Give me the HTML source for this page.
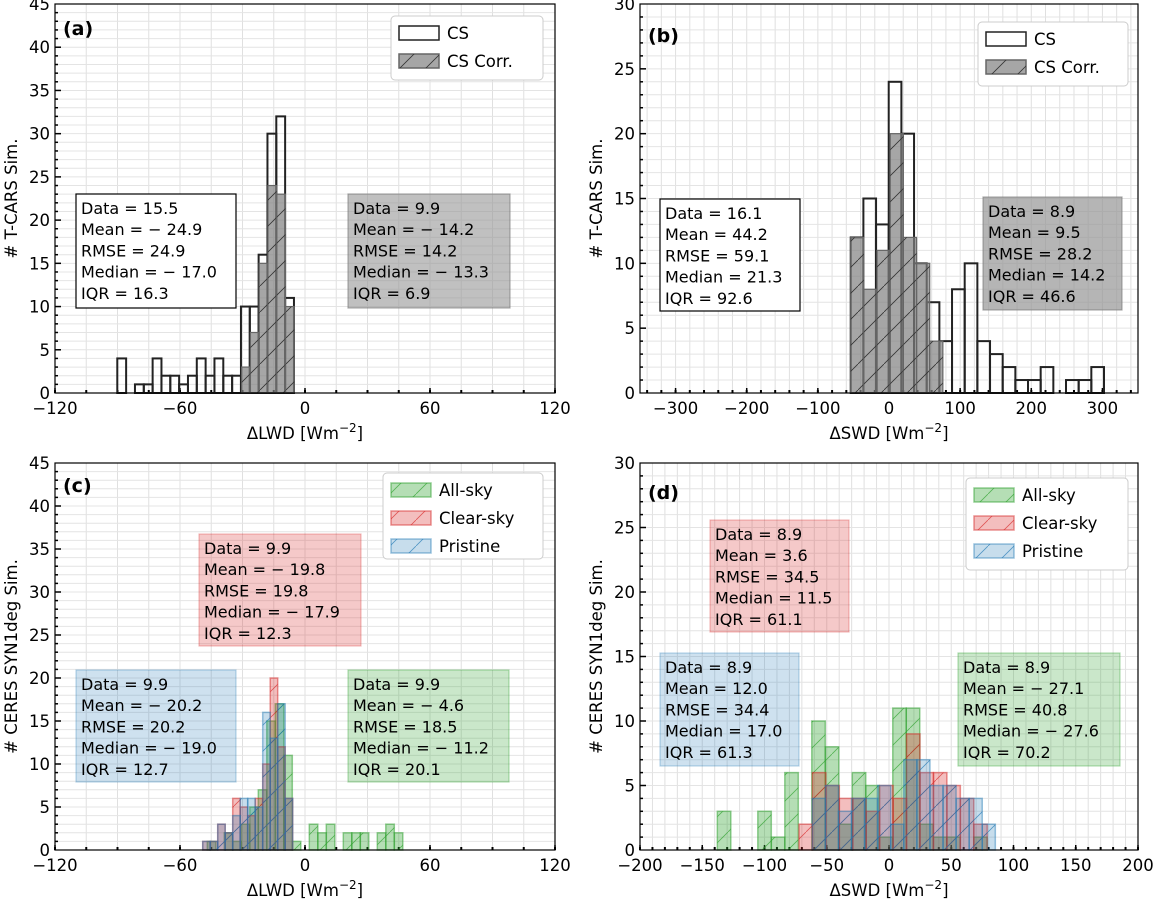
<!DOCTYPE html>
<html><head><meta charset="utf-8"><style>
body{margin:0;background:#fff;}
svg text{font-family:"DejaVu Sans","Liberation Sans",sans-serif;fill:#000;}
</style></head><body>
<svg id="fig" xmlns="http://www.w3.org/2000/svg" width="1155" height="901" viewBox="0 0 1155 901">
<defs>
<pattern id="hk" patternUnits="userSpaceOnUse" width="26" height="26"><path d="M0,26 L26,0" stroke="#333" stroke-width="0.8"/></pattern>
<pattern id="hg" patternUnits="userSpaceOnUse" width="26" height="26"><path d="M0,26 L26,0" stroke="#2ca02c" stroke-width="0.8" opacity="0.7"/></pattern>
<pattern id="hr" patternUnits="userSpaceOnUse" width="26" height="26"><path d="M0,26 L26,0" stroke="#d62728" stroke-width="0.8" opacity="0.7"/></pattern>
<pattern id="hb" patternUnits="userSpaceOnUse" width="26" height="26"><path d="M0,26 L26,0" stroke="#1f77b4" stroke-width="0.8" opacity="0.7"/></pattern>
</defs>
</svg>
<script>
// ---- data ----
const aCsCounts=[4,0,1,1,4,2,2,1,2,4,2,4,2,2,10,10,16,30,32,11];
const aCsStart=-90.1, aCsWidth=4.24;
const aCorrCounts=[3,7,15,24,23,10];
const aCorrStart=-30.4, aCorrWidth=4.2;
const bCsCounts=[12,15,13,24,20,10,7,4,8,10,4,3,2,1,1,2,0,1,1,2];
const bCsStart=-53.8, bCsWidth=17.8;
const bCorrCounts=[12,8,11,20,12,10,4];
const bCorrStart=-53.8, bCorrWidth=18.5;
const cAllCounts=[1,0,2,1,3,5,7,15,17,11,1,0,3,2,3,0,2,2,2,0,2,3,2];
const cAllStart=-46.9, cAllWidth=4.08;
const cClearCounts=[1,1,3,2,6,5,4,6,10,20,12,6];
const cClearStart=-49.1, cClearWidth=3.6;
const cPristineCounts=[1,1,3,2,4,6,6,5,16,13,17,6];
const cPristineStart=-49.1, cPristineWidth=3.6;
const dAllCounts=[3,0,0,3,1,6,0,10,8,2,6,5,1,11,11,2,1,1,0,1];
const dAllStart=-137.9, dAllWidth=10.84;
const dClearCounts=[2,6,5,4,4,3,5,4,9,6,6,5,4,2];
const dClearStart=-72.3, dClearWidth=10.8;
const dPristineCounts=[4,5,3,4,4,5,2,7,7,5,5,4,4,2];
const dPristineStart=-61.6, dPristineWidth=10.5;
const aXTicks=[-120,-60,0,60,120], bXTicks=[-300,-200,-100,0,100,200,300], dXTicks=[-200,-150,-100,-50,0,50,100,150,200];

const NS="http://www.w3.org/2000/svg";
const svg=document.getElementById('fig');
function el(t,a,p){const e=document.createElementNS(NS,t);for(const k in a)e.setAttribute(k,a[k]);(p||svg).appendChild(e);return e;}
function txt(s,a,p){const e=el('text',a,p);e.textContent=s;return e;}

const panels={
 a:{x0:55,x1:555,yb:393,yt:4,xmin:-120,xmax:120,ymax:45,ticks:aXTicks,minor:15,lab:'(a)',labY:35,ylab:'# T-CARS Sim.',xlab:'ΔLWD'},
 b:{x0:640,x1:1138,yb:393,yt:4,xmin:-350,xmax:350,ymax:30,ticks:bXTicks,minor:20,lab:'(b)',labY:42,ylab:'# T-CARS Sim.',xlab:'ΔSWD'},
 c:{x0:55,x1:555,yb:850,yt:463,xmin:-120,xmax:120,ymax:45,ticks:aXTicks,minor:15,lab:'(c)',labY:492,ylab:'# CERES SYN1deg Sim.',xlab:'ΔLWD'},
 d:{x0:640,x1:1138,yb:850,yt:463,xmin:-200,xmax:200,ymax:30,ticks:dXTicks,minor:10,lab:'(d)',labY:499,ylab:'# CERES SYN1deg Sim.',xlab:'ΔSWD'}
};
function X(p,v){return p.x0+(v-p.xmin)/(p.xmax-p.xmin)*(p.x1-p.x0);}
function Y(p,v){return p.yb-v/p.ymax*(p.yb-p.yt);}

function drawAxes(k){
 const p=panels[k];
 const g=el('g',{});
 
 
 for(let v=Math.ceil(p.xmin/p.minor)*p.minor;v<=p.xmax;v+=p.minor){
  el('line',{x1:X(p,v),x2:X(p,v),y1:p.yt,y2:p.yb,stroke:'#e0e0e0','stroke-width':1},g);
 }
 for(let v=1;v<p.ymax;v++){
  el('line',{x1:p.x0,x2:p.x1,y1:Y(p,v),y2:Y(p,v),stroke:'#e4e4e4','stroke-width':1},g);
  el('line',{x1:p.x0,x2:p.x0+(v%5?3:6),y1:Y(p,v),y2:Y(p,v),stroke:'#000','stroke-width':1.5},g);
 }
 for(let v=0;v<=p.ymax;v+=5){
  const t=txt(String(v),{x:p.x0-5,y:Y(p,v)+6,'text-anchor':'end','font-size':16.5},g);
  
  
 }
 for(let v=Math.ceil(p.xmin/p.minor)*p.minor;v<=p.xmax;v+=p.minor){
  el('line',{x1:X(p,v),x2:X(p,v),y1:p.yb,y2:p.yb-3,stroke:'#000','stroke-width':2},g);
 }
 p.ticks.forEach(v=>{
  el('line',{x1:X(p,v),x2:X(p,v),y1:p.yb,y2:p.yb-5,stroke:'#000','stroke-width':1.5},g);
  const t=txt(String(v).replace('-','−'),{x:X(p,v),y:p.yb+21,'text-anchor':'middle','font-size':16.5},g);
  
  
 });
 const yl=txt(p.ylab,{x:0,y:0,'text-anchor':'middle','font-size':16.5,transform:`translate(${p.x0-38},${(p.yb+p.yt)/2}) rotate(-90)`});
 
 
 const xl=el('text',{x:(p.x0+p.x1)/2,y:p.yb+46,'text-anchor':'middle','font-size':16.5});
 xl.innerHTML=p.xlab+' [Wm<tspan dy="-7" font-size="12">−2</tspan><tspan dy="7">]</tspan>';
 
 
}
function drawFrame(k){
 const p=panels[k];
 const r=el('rect',{x:p.x0,y:p.yt,width:p.x1-p.x0,height:p.yb-p.yt,fill:'none',stroke:'#000','stroke-width':1.2});
 
 
 const l=txt(p.lab,{x:p.x0+8,y:p.labY,'font-size':19,'font-weight':'bold'});
 
 
}
function hist(k,name,start,width,counts,fill,stroke,hatch,sw){
 const p=panels[k];
 const g=el('g',{});
 
 
 counts.forEach((c,i)=>{
  if(!c)return;
  const x1=X(p,start+i*width),x2=X(p,start+(i+1)*width),y=Y(p,c);
  const r=el('rect',{x:x1,y:y,width:x2-x1,height:p.yb-y,fill:fill,stroke:stroke,'stroke-width':sw},g);
  
  
  if(hatch){
   const h=el('rect',{x:x1,y:y,width:x2-x1,height:p.yb-y,fill:'url(#'+hatch+')'},g);
   
   
  }
 });
}
function statBox(name,x,y,w,h,fill,stroke,lines){
 const g=el('g',{});
 
 
 el('rect',{x:x,y:y,width:w,height:h,fill:fill,stroke:stroke,'stroke-width':1.2},g);
 lines.forEach((s,i)=>txt(s,{x:x+5,y:y+20+i*21.2,'font-size':16},g));
}
function legend(name,x,y,w,h,items){
 const g=el('g',{});
 
 
 el('rect',{x:x,y:y,width:w,height:h,rx:4,fill:'#fff',stroke:'#ccc','stroke-width':1},g);
 items.forEach((it,i)=>{
  const yy=y+10+i*28;
  const e=el('g',{},g);
  
  
  el('rect',{x:x+8,y:yy,width:40,height:14,fill:it[1],stroke:it[2],'stroke-width':1.5},e);
  if(it[3])el('rect',{x:x+8,y:yy,width:40,height:14,fill:'url(#'+it[3]+')'},e);
  txt(it[0],{x:x+56,y:yy+13,'font-size':16.5},e);
 });
}
['a','b','c','d'].forEach(drawAxes);
hist('a','cs-hist',aCsStart,aCsWidth,aCsCounts,'none','#222',null,2);
hist('a','cs-corr-hist',aCorrStart,aCorrWidth,aCorrCounts,'rgba(128,128,128,0.7)','#666','hk',1.2);
hist('b','cs-hist',bCsStart,bCsWidth,bCsCounts,'none','#222',null,2);
hist('b','cs-corr-hist',bCorrStart,bCorrWidth,bCorrCounts,'rgba(128,128,128,0.7)','#666','hk',1.2);
hist('c','all-sky-hist',cAllStart,cAllWidth,cAllCounts,'rgba(44,160,44,0.35)','rgba(44,160,44,0.5)','hg',1.5);
hist('c','clear-sky-hist',cClearStart,cClearWidth,cClearCounts,'rgba(214,39,40,0.3)','rgba(214,39,40,0.5)','hr',1.5);
hist('c','pristine-hist',cPristineStart,cPristineWidth,cPristineCounts,'rgba(31,119,180,0.25)','rgba(31,119,180,0.45)','hb',1.5);
hist('d','all-sky-hist',dAllStart,dAllWidth,dAllCounts,'rgba(44,160,44,0.35)','rgba(44,160,44,0.5)','hg',1.5);
hist('d','clear-sky-hist',dClearStart,dClearWidth,dClearCounts,'rgba(214,39,40,0.3)','rgba(214,39,40,0.5)','hr',1.5);
hist('d','pristine-hist',dPristineStart,dPristineWidth,dPristineCounts,'rgba(31,119,180,0.25)','rgba(31,119,180,0.45)','hb',1.5);
['a','b','c','d'].forEach(drawFrame);

statBox('stats-cs-a',76,194,160,114,'#fff','#000',['Data = 15.5','Mean = − 24.9','RMSE = 24.9','Median = − 17.0','IQR = 16.3']);
statBox('stats-corr-a',348,194,162,114,'rgba(150,150,150,0.6)','rgba(120,120,120,0.6)',['Data = 9.9','Mean = − 14.2','RMSE = 14.2','Median = − 13.3','IQR = 6.9']);
statBox('stats-cs-b',660,199,140,112,'#fff','#000',['Data = 16.1','Mean = 44.2','RMSE = 59.1','Median = 21.3','IQR = 92.6']);
statBox('stats-corr-b',983,197,139,113,'rgba(150,150,150,0.7)','rgba(120,120,120,0.6)',['Data = 8.9','Mean = 9.5','RMSE = 28.2','Median = 14.2','IQR = 46.6']);
statBox('stats-clear-c',199,534,162,112,'rgba(214,39,40,0.25)','rgba(214,39,40,0.3)',['Data = 9.9','Mean = − 19.8','RMSE = 19.8','Median = − 17.9','IQR = 12.3']);
statBox('stats-pristine-c',76,670,160,112,'rgba(31,119,180,0.22)','rgba(31,119,180,0.3)',['Data = 9.9','Mean = − 20.2','RMSE = 20.2','Median = − 19.0','IQR = 12.7']);
statBox('stats-all-c',348,670,161,112,'rgba(44,160,44,0.25)','rgba(44,160,44,0.35)',['Data = 9.9','Mean = − 4.6','RMSE = 18.5','Median = − 11.2','IQR = 20.1']);
statBox('stats-clear-d',710,520,139,112,'rgba(214,39,40,0.25)','rgba(214,39,40,0.3)',['Data = 8.9','Mean = 3.6','RMSE = 34.5','Median = 11.5','IQR = 61.1']);
statBox('stats-pristine-d',660,653,139,113,'rgba(31,119,180,0.22)','rgba(31,119,180,0.3)',['Data = 8.9','Mean = 12.0','RMSE = 34.4','Median = 17.0','IQR = 61.3']);
statBox('stats-all-d',958,653,162,113,'rgba(44,160,44,0.25)','rgba(44,160,44,0.35)',['Data = 8.9','Mean = − 27.1','RMSE = 40.8','Median = − 27.6','IQR = 70.2']);

legend('legend-a',391,16,152,64,[['CS','#fff','#222',null],['CS Corr.','rgba(128,128,128,0.7)','#666','hk']]);
legend('legend-b',978,22,150,64,[['CS','#fff','#222',null],['CS Corr.','rgba(128,128,128,0.7)','#666','hk']]);
legend('legend-c',383,473,160,86,[['All-sky','rgba(44,160,44,0.35)','rgba(44,160,44,0.5)','hg'],['Clear-sky','rgba(214,39,40,0.3)','rgba(214,39,40,0.5)','hr'],['Pristine','rgba(31,119,180,0.25)','rgba(31,119,180,0.45)','hb']]);
legend('legend-d',966,478,162,92,[['All-sky','rgba(44,160,44,0.35)','rgba(44,160,44,0.5)','hg'],['Clear-sky','rgba(214,39,40,0.3)','rgba(214,39,40,0.5)','hr'],['Pristine','rgba(31,119,180,0.25)','rgba(31,119,180,0.45)','hb']]);
</script>
</body></html>
